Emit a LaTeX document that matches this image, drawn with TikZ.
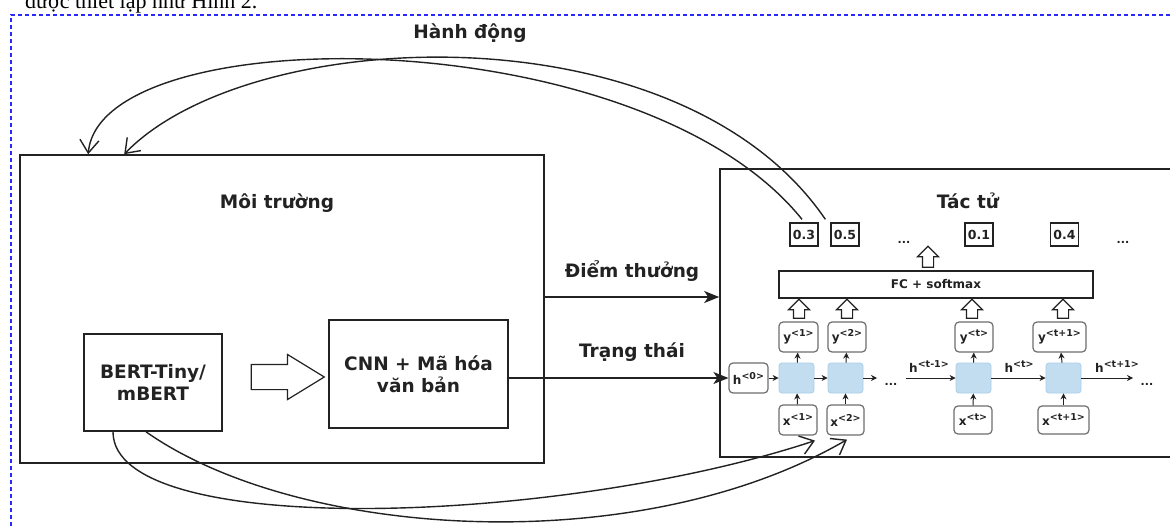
\documentclass[tikz,border=0pt]{standalone}
\usepackage{fontspec}
\setmainfont{Liberation Serif}
\newfontfamily\labfont{DejaVu Sans}
\usetikzlibrary{arrows.meta,shapes.arrows,calc}
\definecolor{ink}{HTML}{222222}
\definecolor{rim}{HTML}{6E6E6E}
\definecolor{cellfill}{HTML}{C3DDF0}
\definecolor{cellrim}{HTML}{A9CDE8}
\definecolor{frameblue}{RGB}{40,40,255}
\newcommand{\supx}[1]{\raisebox{0.42em}{\fontsize{9.5}{10}\selectfont#1}}
\begin{document}
\begin{tikzpicture}[x=1pt,y=-1pt,
  bigbox/.style={draw=ink, line width=1.6pt, fill=white, inner sep=0pt},
  biglbl/.style={font=\labfont\bfseries\fontsize{18.5}{22}\selectfont, text=ink, align=center},
  valbox/.style={draw=ink, line width=1.3pt, fill=white, minimum width=28pt, minimum height=23pt, inner sep=0pt, font=\labfont\bfseries\fontsize{12.5}{14}\selectfont, text=ink},
  rnnbox/.style={draw=rim, line width=1.2pt, rounded corners=4pt, fill=white, minimum height=30pt, inner sep=0pt, font=\labfont\bfseries\fontsize{12}{14}\selectfont, text=ink},
  cell/.style={draw=cellrim, fill=cellfill, line width=0.8pt, rounded corners=3pt, minimum width=35pt, minimum height=30pt, inner sep=0pt},
  smalllbl/.style={font=\labfont\bfseries\fontsize{12}{14}\selectfont, text=ink, inner sep=0pt},
  dots/.style={font=\labfont\bfseries\fontsize{11}{12}\selectfont, text=ink, inner sep=0pt, anchor=base},
  hollow/.style={single arrow, draw=ink, fill=white, line width=1.2pt, inner xsep=0pt, inner ysep=5pt, single arrow head extend=5pt, single arrow tip angle=90, minimum height=20pt, rotate=90},
  openarr/.style={draw=ink, line width=1.4pt, -{Straight Barb[length=13pt,width=19pt]}},
  solidarr/.style={draw=ink, line width=1.5pt, -{Stealth[length=15pt,width=12pt,inset=4pt]}},
  tinyarr/.style={draw=ink, line width=1pt, -{Stealth[length=6pt,width=6pt]}},
]
\useasboundingbox (0,0) rectangle (1170,527);
\clip (0,0) rectangle (1170,527);

% running text of the page above the figure
\node[anchor=base west, inner sep=0pt, font=\fontsize{22}{26}\selectfont] (caption) at (25,9) {được thiết lập như Hình 2.};

% dashed frame of the figure
\draw[frameblue, line width=1.1pt, dash pattern=on 4pt off 3pt] (11,540) -- (11,15) -- (1180,15);

% ---------------- environment ----------------
\node[bigbox, minimum width=524pt, minimum height=308pt] (env) at (282,309) {};
\node[biglbl] (lenv) at (277,203) {Môi trường};
\node[bigbox, minimum width=138pt, minimum height=97pt, biglbl] (bert) at (153,382.5) {BERT-Tiny/\\mBERT};
\node[bigbox, minimum width=179pt, minimum height=108pt, biglbl] (cnn) at (418.5,374) {CNN + Mã hóa\\văn bản};
\node[single arrow, draw=ink, fill=white, line width=1.2pt, inner xsep=0pt, inner ysep=12pt,
      minimum height=73pt, single arrow head extend=10pt,
      single arrow tip angle=63] (bigarrow) at (277.5,377) {};

% ---------------- agent ----------------
\node[bigbox, minimum width=460pt, minimum height=288pt] (agent) at (950,313) {};
\node[biglbl] (lag) at (968,201) {Tác tử};

% output values
\node[valbox] (v1) at (804,234.5) {0.3};
\node[valbox] (v2) at (845,234.5) {0.5};
\node[valbox] (v3) at (979,234.5) {0.1};
\node[valbox] (v4) at (1064.5,234.5) {0.4};
\node[dots] (d1) at (904,243) {...};
\node[dots] (d2) at (1123,243) {...};

\node[hollow, minimum height=21pt] (fcup) at (928,259.5) {};
\node[draw=ink, line width=1.3pt, fill=white, minimum width=314pt, minimum height=27pt, inner sep=0pt,
      font=\labfont\bfseries\fontsize{12}{14}\selectfont, text=ink] (fc) at (936,284.5) {FC + softmax};

% outputs y
\node[rnnbox, minimum width=39pt] (y1) at (798.5,337) {y\supx{<1>}};
\node[rnnbox, minimum width=38pt] (y2) at (847,337) {y\supx{<2>}};
\node[rnnbox, minimum width=38pt] (yt) at (974,337) {y\supx{<t>}};
\node[rnnbox, minimum width=53pt] (yt1) at (1059.5,337) {y\supx{<t+1>}};

\node[hollow, minimum height=19pt] (u1) at (799,311.5) {};
\node[hollow, minimum height=19pt] (u2) at (847,311.5) {};
\node[hollow, minimum height=19pt] (u3) at (972,311.5) {};
\node[hollow, minimum height=19pt] (u4) at (1063,311.5) {};

% recurrent cells
\node[rnnbox, minimum width=39pt] (h0) at (748.5,378) {h\supx{<0>}};
\node[cell] (c1) at (796.5,378) {};
\node[cell] (c2) at (845.5,378) {};
\node[cell] (ct) at (973.5,378) {};
\node[cell] (ct1) at (1063.5,378) {};

% inputs x
\node[rnnbox, minimum width=38pt] (x1) at (798,420) {x\supx{<1>}};
\node[rnnbox, minimum width=37pt] (x2) at (845.5,420) {x\supx{<2>}};
\node[rnnbox, minimum width=38pt, minimum height=28pt] (xt) at (973,420) {x\supx{<t>}};
\node[rnnbox, minimum width=51pt, minimum height=28pt] (xt1) at (1063.5,420) {x\supx{<t+1>}};

% recurrent connections
\coordinate (c2out) at (877,378);
\coordinate (hin) at (906,378);
\coordinate (ct1out) at (1133,378);
\draw[tinyarr] (h0) -- (c1);
\draw[tinyarr] (c1) -- (c2);
\draw[tinyarr] (c2) -- (c2out);
\node[dots] (d3) at (891,385) {...};
\draw[tinyarr] (hin) -- (ct);
\node[smalllbl] (lhtm) at (929,367) {h\supx{<t-1>}};
\draw[tinyarr] (ct) -- (ct1);
\node[smalllbl] (lht) at (1019,367) {h\supx{<t>}};
\draw[tinyarr] (ct1) -- (ct1out);
\node[smalllbl] (lht1) at (1117,367) {h\supx{<t+1>}};
\node[dots] (d4) at (1147,385) {...};

\foreach \a/\b in {x1/c1, x2/c2, xt/ct, xt1/ct1, c1/y1, c2/y2, ct/yt, ct1/yt1}
  \draw[tinyarr] (\a) -- (\b);

% ---------------- interactions ----------------
\draw[solidarr] ($(env.east)+(0,-12)$) -- ($(agent.west)+(0,-16)$);
\node[biglbl] (lrew) at (632,271) {Điểm thưởng};
\draw[solidarr] (cnn.east |- h0.west) -- (h0.west);
\node[biglbl] (lsta) at (632,352) {Trạng thái};

% actions back to the environment
\draw[openarr] ($(v1.north)+(-2,-3)$) .. controls (640,18) and (100,18) .. ($(env.north west)+(69,0)$);
\draw[openarr] ($(v2.north west)+(-5,-3)$) .. controls (680,6) and (250,24) .. ($(env.north west)+(105,0)$);
\node[biglbl] (lact) at (470,33) {Hành động};

% embeddings fed to the inputs
\draw[openarr] ($(bert.south)+(-40,0)$) .. controls (113,540) and (560,525) .. ($(x1.south)+(17,5)$);
\draw[openarr] ($(bert.south)+(-7,0)$) .. controls (300,540) and (640,560) .. ($(x2.south)+(1.5,4)$);
\end{tikzpicture}
\end{document}
